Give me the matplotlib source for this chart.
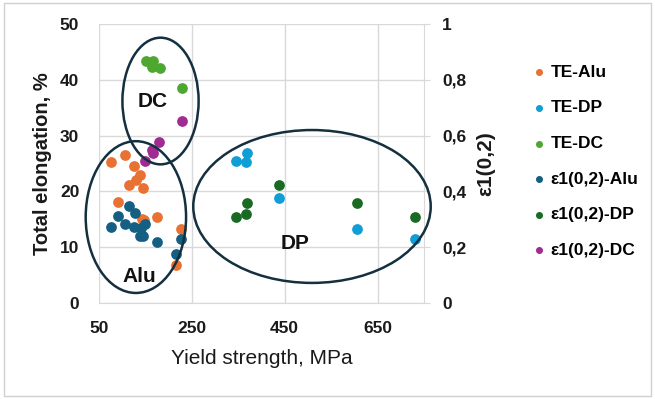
import numpy as np
import matplotlib.pyplot as plt
from matplotlib.patches import Ellipse, Rectangle

plt.rcParams['font.family'] = ['Liberation Sans', 'DejaVu Sans']

# total elongation (%) vs yield strength (MPa)
te_alu_x = [77, 106, 126, 139, 130, 115, 145, 92, 143, 148, 175, 227, 217]
te_alu_y = [25.3, 26.6, 24.6, 22.9, 22.0, 21.2, 20.7, 18.1, 15.0, 14.8, 15.5, 13.3, 6.8]
te_dp_x = [345, 369, 367, 439, 605, 730]
te_dp_y = [25.4, 26.8, 25.2, 18.8, 13.2, 11.4]
te_dc_x = [151, 166, 164, 182, 229]
te_dc_y = [43.4, 43.3, 42.3, 42.2, 38.5]

# eps1(0,2) on the secondary axis
e_alu_x = [77, 92, 106, 115, 128, 126, 142, 149, 139, 145, 175, 227, 217]
e_alu_y = [0.271, 0.312, 0.282, 0.349, 0.322, 0.271, 0.268, 0.282, 0.240, 0.240, 0.220, 0.228, 0.177]
e_dp_x = [345, 367, 369, 439, 605, 730]
e_dp_y = [0.310, 0.320, 0.357, 0.422, 0.357, 0.310]
e_dc_x = [229, 180, 164, 167, 149]
e_dc_y = [0.651, 0.577, 0.550, 0.539, 0.508]

# group ellipses: (label, center x, center y, width, height, label x, label y)
groups = [
    ('DC', 183, 36.2, 164, 22.7, 166, 36.1),
    ('Alu', 130, 15.4, 216, 27.2, 137, 4.8),
    ('DP', 509, 17.3, 511, 27.4, 473, 10.7),
]

fig = plt.figure(figsize=(6.55, 3.99), dpi=100)
ax = fig.add_axes([0.1507, 0.2406, 0.4966, 0.6992])
ax2 = ax.twinx()

ax.set_xlim(50, 750)
ax.set_ylim(0, 50)
ax2.set_ylim(0, 1)
ax.set_xticks([50, 250, 450, 650])
ax.set_yticks(np.arange(0, 51, 10))
ax2.set_yticks(np.arange(0, 1.01, 0.2))
ax2.set_yticklabels(['0', '0,2', '0,4', '0,6', '0,8', '1'])

ax.grid(True, color='#d9d9d9', lw=1)
ax.set_axisbelow(True)
for sp in ['top', 'left']:
    ax.spines[sp].set_visible(False)
    ax2.spines[sp].set_visible(False)
ax.spines['right'].set_visible(False)
ax.spines['bottom'].set_color('#d9d9d9')
ax2.spines['bottom'].set_visible(False)
ax2.spines['right'].set_color('#d9d9d9')

ax.tick_params(axis='both', length=0)
ax.tick_params(axis='y', pad=14)
ax.tick_params(axis='x', pad=13)
ax2.tick_params(axis='y', length=4, color='#d9d9d9', pad=9)
for lab in ax.get_xticklabels() + ax.get_yticklabels() + ax2.get_yticklabels():
    lab.set_fontsize(12.5)
    lab.set_fontweight('bold')
    lab.set_color('#1a1a1a')

s = 45
h1 = ax.scatter(te_alu_x, te_alu_y, s=s, color='#E97132', label='TE-Alu', zorder=3)
h2 = ax.scatter(te_dp_x, te_dp_y, s=s, color='#0F9ED5', label='TE-DP', zorder=3)
h3 = ax.scatter(te_dc_x, te_dc_y, s=s, color='#4EA72E', label='TE-DC', zorder=3)
h4 = ax2.scatter(e_alu_x, e_alu_y, s=s, color='#156082', label='ε1(0,2)-Alu', zorder=3)
h5 = ax2.scatter(e_dp_x, e_dp_y, s=s, color='#196B24', label='ε1(0,2)-DP', zorder=3)
h6 = ax2.scatter(e_dc_x, e_dc_y, s=s, color='#A02B93', label='ε1(0,2)-DC', zorder=3)

for name, cx, cy, w, h, tx, ty in groups:
    ax2.add_patch(Ellipse((cx, cy), w, h, transform=ax.transData, fill=False,
                          ec='#14303f', lw=1.8, zorder=4, clip_on=False))
    ax2.text(tx, ty, name, transform=ax.transData, ha='center', va='center',
             fontsize=15, fontweight='bold', color='#111111', zorder=5)

ax.set_ylabel('Total elongation, %', fontsize=14.5, fontweight='bold', color='#1a1a1a', labelpad=6)
ax.set_xlabel('Yield strength, MPa', fontsize=15, color='#1a1a1a', labelpad=9)
ax2.set_ylabel('ε1(0,2)', fontsize=15, fontweight='bold', color='#1a1a1a', labelpad=7)

fig.legend(handles=[h1, h2, h3, h4, h5, h6], loc='upper left',
           bbox_to_anchor=(0.793, 0.877), frameon=False, markerscale=0.6,
           handlelength=0.5, handletextpad=0.4, labelspacing=1.18,
           prop=dict(size=12.5, weight='bold'))

fig.patches.append(Rectangle((0.006, 0.008), 0.988, 0.984, transform=fig.transFigure,
                             fill=False, ec='#d0d0d0', lw=1))

fig.savefig('out.png', dpi=100)
